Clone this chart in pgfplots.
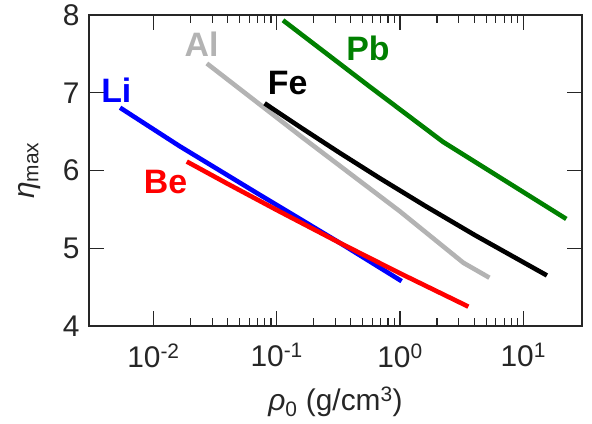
\documentclass[border=0pt]{standalone}
\usepackage{fontspec}
\setmainfont{Liberation Sans}
\usepackage{pgfplots}
\pgfplotsset{compat=1.18}
\usetikzlibrary{calc}
\definecolor{axisGray}{HTML}{262626}
\definecolor{alGray}{HTML}{B3B3B3}
\definecolor{pbGreen}{HTML}{008000}

\begin{document}
\begin{tikzpicture}
\begin{axis}[
  xmode=log,
  scale only axis,
  width=493bp, height=311bp,
  xmin=3e-3, xmax=30,
  ymin=4, ymax=8,
  xtick={1e-2,1e-1,1,10},
  xticklabels={10\textsuperscript{-2},10\textsuperscript{-1},10\textsuperscript{0},10\textsuperscript{1}},
  ytick={4,5,6,7,8},
  /pgf/number format/assume math mode=true,
  tick label style={font=\fontsize{30}{34}\selectfont, text=axisGray},
  xticklabel style={yshift=-14bp},
  yticklabel style={xshift=-6bp},
  axis line style={draw=axisGray, line width=1.2pt},
  tick style={draw=axisGray, line width=1.2pt},
  major tick length=15bp, minor tick length=8bp,
  tick align=inside,
  xlabel={\textit{ρ}\textsubscript{0} (g/cm\textsuperscript{3})},
  ylabel={\textit{η}\textsubscript{max}},
  label style={font=\fontsize{30}{34}\selectfont, text=axisGray},
  xlabel style={at={(rel axis cs:0.5,-0.244)}, anchor=center},
  ylabel style={at={(rel axis cs:-0.12,0.5)}, anchor=center},
  every axis plot/.append style={line width=4.6bp, no marks},
  clip=false,
]
  \addplot[blue] coordinates {(5.36e-3,6.808) (0.01627,6.314) (0.07275,5.688) (0.3252,5.069) (1.032,4.577)};
  \addplot[red] coordinates {(0.01865,6.115) (0.03945,5.834) (0.1006,5.490) (0.3252,5.069) (1.0,4.678) (3.592,4.249)};
  \addplot[alGray] coordinates {(0.02712,7.377) (0.1636,6.419) (1.0,5.474) (3.271,4.813) (5.32,4.621)};
  \addplot[black] coordinates {(0.0798,6.864) (0.1538,6.562) (0.3252,6.226) (0.6877,5.900) (1.597,5.546) (4.072,5.167) (15.58,4.650)};
  \addplot[pbGreen] coordinates {(0.1125,7.932) (0.5703,7.077) (2.237,6.368) (22.37,5.377)};

  \node[text=blue, font=\fontsize{34}{36}\selectfont\bfseries] at (axis cs:5.0e-3,7.035) {Li};
  \node[text=alGray, font=\fontsize{34}{36}\selectfont\bfseries] at (axis cs:0.02455,7.624) {Al};
  \node[text=black, font=\fontsize{34}{36}\selectfont\bfseries] at (axis cs:0.1227,7.124) {Fe};
  \node[text=pbGreen, font=\fontsize{34}{36}\selectfont\bfseries] at (axis cs:0.5495,7.573) {Pb};
  \node[text=red, font=\fontsize{34}{36}\selectfont\bfseries] at (axis cs:0.01254,5.855) {Be};

  \coordinate (bl) at (rel axis cs:0,0);
\end{axis}
\pgfresetboundingbox
\path ($(bl)+(-89bp,-98bp)$) rectangle ($(bl)+(503bp,311bp+15bp)$);
\end{tikzpicture}
\end{document}
